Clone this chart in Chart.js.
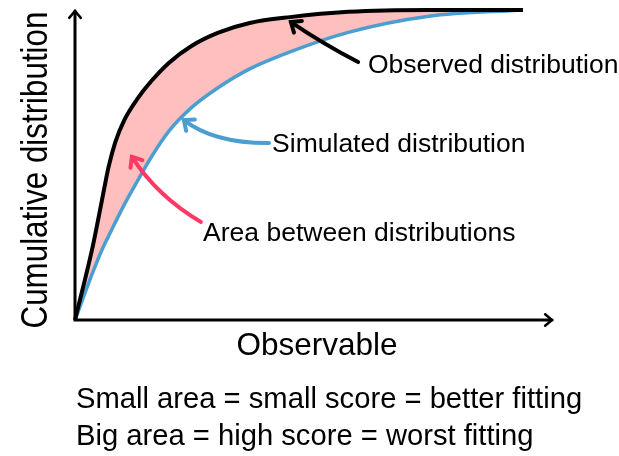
<!DOCTYPE html>
<html>
<head>
<meta charset="utf-8">
<script src="https://cdn.jsdelivr.net/npm/chart.js@4/dist/chart.umd.min.js"></script>
<style>
  body { margin: 0; background: #fff; }
  #wrap { width: 619px; height: 456px; }
</style>
</head>
<body>
<div id="wrap"><canvas id="chart" width="619" height="456"></canvas></div>
<script>
// observable values (x) shared by both curves
var observable = [0, 4, 6, 7.5, 9, 11, 14, 17, 21, 26, 32, 39, 48, 61, 79, 100];
// cumulative distribution of the observed data
var observed = [0, 0.24, 0.385, 0.494, 0.574, 0.645, 0.715, 0.77, 0.83, 0.884, 0.927, 0.958, 0.977, 0.994, 1.0, 1.0];
// cumulative distribution of the simulation
var simulated = [0, 0.155, 0.226, 0.271, 0.315, 0.372, 0.45, 0.525, 0.61, 0.685, 0.75, 0.81, 0.865, 0.928, 0.98, 1.0];

var captions = [
  'Small area = small score = better fitting',
  'Big area = high score = worst fitting'
];

// callouts, in data units: text anchor and a curved arrow (tail, bend, head)
var notes = [
  { text: 'Observed distribution', color: '#000000', tx: 65.4, ty: 0.797,
    tail: [63.2, 0.832], bend: [55.5, 0.89], head: [48.2, 0.961] },
  { text: 'Simulated distribution', color: '#4a9fd0', tx: 44.0, ty: 0.542,
    tail: [43.3, 0.571], bend: [31.0, 0.57], head: [24.3, 0.645] },
  { text: 'Area between distributions', color: '#fe3a64', tx: 28.6, ty: 0.255,
    tail: [28.1, 0.316], bend: [18.3, 0.40], head: [12.7, 0.526] }
];

function pts(ys) {
  var out = [];
  observable.forEach(function(x, i) {
    out.push({ x: x, y: ys[i] });
  });
  return out;
}

var FONT = 'Arial, "Liberation Sans", sans-serif';

function arrowHead(ctx, hx, hy, fx, fy, len) {
  var a = Math.atan2(hy - fy, hx - fx);
  ctx.beginPath();
  ctx.moveTo(hx - len * Math.cos(a - 0.7), hy - len * Math.sin(a - 0.7));
  ctx.lineTo(hx, hy);
  ctx.lineTo(hx - len * Math.cos(a + 0.7), hy - len * Math.sin(a + 0.7));
  ctx.stroke();
}

// axes with arrows, axis names, callouts and the captions underneath
var decorations = {
  id: 'decorations',
  afterDatasetsDraw: function(chart) {
    var ctx = chart.ctx;
    var area = chart.chartArea;
    var xs = chart.scales.x, ys = chart.scales.y;
    ctx.save();
    ctx.lineCap = 'round';
    ctx.lineJoin = 'miter';

    // axes
    ctx.strokeStyle = '#000';
    ctx.lineWidth = 3;
    ctx.beginPath();
    ctx.moveTo(area.left, area.top + 1);
    ctx.lineTo(area.left, area.bottom);
    ctx.lineTo(area.right - 1, area.bottom);
    ctx.stroke();
    ctx.lineWidth = 2.5;
    arrowHead(ctx, area.left, area.top + 1, area.left, area.top + 20, 9);
    arrowHead(ctx, area.right - 1, area.bottom, area.right - 20, area.bottom, 9);

    // axis names
    ctx.fillStyle = '#000';
    ctx.font = '31.5px ' + FONT;
    ctx.textAlign = 'center';
    ctx.textBaseline = 'alphabetic';
    ctx.fillText('Observable', 317, 355);
    ctx.save();
    ctx.translate(47, 170);
    ctx.rotate(-Math.PI / 2);
    ctx.scale(0.87, 1);
    ctx.font = '36px ' + FONT;
    ctx.fillText('Cumulative distribution', 0, 0);
    ctx.restore();

    // callouts
    ctx.font = '26.5px ' + FONT;
    ctx.textAlign = 'left';
    notes.forEach(function(n) {
      var t = [xs.getPixelForValue(n.tail[0]), ys.getPixelForValue(n.tail[1])];
      var b = [xs.getPixelForValue(n.bend[0]), ys.getPixelForValue(n.bend[1])];
      var h = [xs.getPixelForValue(n.head[0]), ys.getPixelForValue(n.head[1])];
      ctx.strokeStyle = n.color;
      ctx.lineWidth = 4;
      ctx.beginPath();
      ctx.moveTo(t[0], t[1]);
      ctx.quadraticCurveTo(b[0], b[1], h[0], h[1]);
      ctx.stroke();
      arrowHead(ctx, h[0], h[1], b[0], b[1], 11);
      ctx.fillStyle = '#000';
      ctx.fillText(n.text, xs.getPixelForValue(n.tx), ys.getPixelForValue(n.ty));
    });

    // captions
    ctx.font = '29.2px ' + FONT;
    ctx.fillText(captions[0], 76, 408);
    ctx.fillText(captions[1], 76, 445);
    ctx.restore();
  }
};

var chart = new Chart(document.getElementById('chart').getContext('2d'), {
  type: 'line',
  data: {
    datasets: [{
      label: 'Observed distribution',
      data: pts(observed),
      borderColor: '#000000',
      borderWidth: 4,
      backgroundColor: '#ffbfbf',
      fill: '+1',
      pointRadius: 0,
      cubicInterpolationMode: 'monotone',
      clip: false
    }, {
      label: 'Simulated distribution',
      data: pts(simulated),
      borderColor: '#4a9fd0',
      borderWidth: 3.5,
      fill: false,
      pointRadius: 0,
      cubicInterpolationMode: 'monotone',
      clip: false
    }]
  },
  options: {
    responsive: false,
    animation: false,
    layout: { padding: { left: 75, right: 66, top: 10, bottom: 136 } },
    scales: {
      x: { type: 'linear', min: 0, max: 106.7, display: false },
      y: { min: 0, max: 1, display: false }
    },
    plugins: {
      legend: { display: false },
      tooltip: { enabled: false },
      filler: { drawTime: 'beforeDatasetsDraw' }
    }
  },
  plugins: [decorations]
});
</script>
</body>
</html>
